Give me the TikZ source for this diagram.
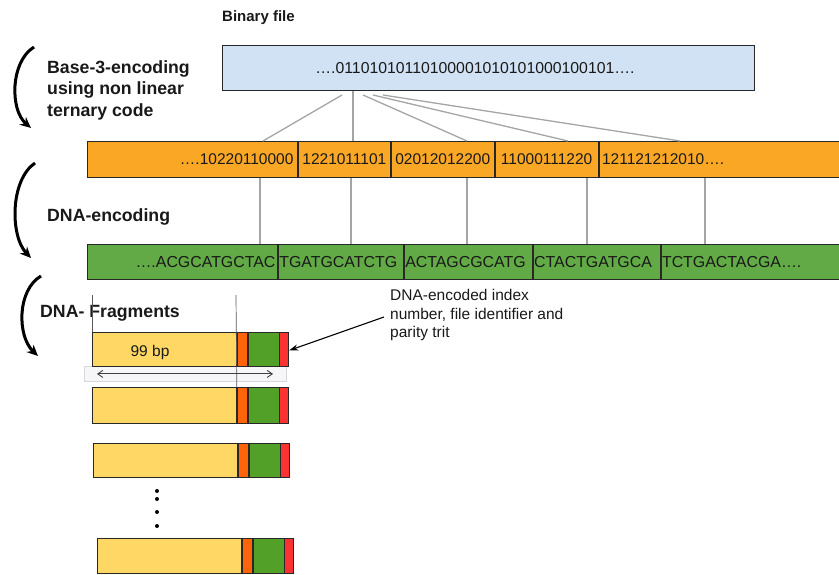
\documentclass[tikz,border=0pt]{standalone}
\usepackage{fontspec}
\setmainfont{Liberation Sans}
\usetikzlibrary{arrows.meta,calc}

\definecolor{binblue}{RGB}{208,226,244}
\definecolor{barorange}{RGB}{250,167,38}
\definecolor{bargreen}{RGB}{98,170,70}
\definecolor{fragyellow}{RGB}{255,215,100}
\definecolor{fragorange}{RGB}{255,100,10}
\definecolor{fraggreen}{RGB}{82,160,40}
\definecolor{fragred}{RGB}{250,50,50}
\definecolor{linkgray}{RGB}{165,165,165}
\definecolor{edgegray}{RGB}{40,40,40}
\definecolor{inkblack}{RGB}{25,25,25}
\definecolor{bandfill}{RGB}{246,246,248}
\definecolor{bandedge}{RGB}{215,215,220}

% one DNA fragment: payload, index, identifier, parity
% #1 name prefix, #2 left x, #3 top y, #4 height
\newcommand{\dnafrag}[4]{%
  \node[fragpart, fill=fragyellow, minimum width=144pt, minimum height=#4] (#1y) at (#2,#3) {};
  \node[fragpart, fill=fragorange, minimum width=10pt, minimum height=#4] (#1o) at (#1y.north east) {};
  \node[fragpart, fill=fraggreen, minimum width=31pt, minimum height=#4] (#1g) at (#1o.north east) {};
  \node[fragpart, fill=fragred, minimum width=9pt, minimum height=#4] (#1r) at (#1g.north east) {};
}

\begin{document}
\begin{tikzpicture}[x=1pt,y=-1pt,
  every node/.style={text=inkblack},
  heading/.style={font=\fontsize{17.7}{21.5}\selectfont\bfseries, align=left, anchor=west, inner sep=0pt},
  seqtext/.style={font=\fontsize{15.5}{18.5}\selectfont},
  barseg/.style={seqtext, draw=edgegray, line width=0.9pt, inner ysep=0pt, anchor=north west},
  oseg/.style={barseg, fill=barorange, minimum height=36pt},
  gseg/.style={barseg, fill=bargreen, minimum height=35pt, font=\fontsize{15.9}{18.5}\selectfont},
  fragpart/.style={draw=edgegray, line width=0.8pt, inner sep=0pt, anchor=north west},
  link/.style={draw=linkgray, line width=1.3pt},
  stepcurve/.style={draw=black, line width=3pt, -{Stealth[length=11pt,width=10pt]}},
  guide/.style={draw=black!65, line width=0.7pt},
]
\useasboundingbox (0,0) rectangle (839,574);

% ---- binary file ----
\node[font=\fontsize{15}{18}\selectfont\bfseries, anchor=base west, inner sep=0pt] (bftitle) at (222,21) {Binary file};
\node[draw=edgegray, line width=1pt, fill=binblue, minimum width=532pt, minimum height=45pt, anchor=north west, inner sep=0pt] (bin) at (222,45) {};
\node[font=\fontsize{15.8}{18.5}\selectfont, inner sep=0pt] (bintxt) at (475,68) {….01101010110100001010101000100101….};

% ---- ternary code bar ----
\node[oseg, inner xsep=4pt, text width=202pt, align=right] (o1) at (87,141) {….10220110000};
\node[oseg, inner xsep=2pt, text width=88pt, align=center] (o2) at (o1.north east) {1221011101};
\node[oseg, inner xsep=2pt, text width=99pt, align=center] (o3) at (o2.north east) {02012012200};
\node[oseg, inner xsep=2pt, text width=99pt, align=center] (o4) at (o3.north east) {11000111220};
\node[oseg, inner xsep=3pt, text width=244pt, align=left] (o5) at (o4.north east) {121121212010….};

% ---- DNA bar ----
\node[gseg, inner xsep=2pt, text width=186pt, align=right] (g1) at (87,244) {….ACGCATGCTAC};
\node[gseg, inner xsep=1pt, text width=123pt, align=left] (g2) at (g1.north east) {TGATGCATCTG};
\node[gseg, inner xsep=1pt, text width=126pt, align=left] (g3) at (g2.north east) {ACTAGCGCATG};
\node[gseg, inner xsep=1pt, text width=125pt, align=left] (g4) at (g3.north east) {CTACTGATGCA};
\node[gseg, inner xsep=1pt, text width=183pt, align=left] (g5) at (g4.north east) {TCTGACTACGA….};

% ---- links: binary file to ternary blocks ----
\coordinate (bs) at ([yshift=-4pt]bin.south);
\draw[link] (bs -| 342,0) -- (o1.north -| 263,0);
\draw[link] (bin.south -| 353,0) -- (o2.north -| 353,0);
\draw[link] (bs -| 363,0) -- (o3.north -| 467,0);
\draw[link] (bs -| 373,0) -- (o4.north -| 568,0);
\draw[link] (bs -| 383,0) -- (o5.north -| 680,0);

% ---- links: ternary blocks to DNA blocks ----
\draw[link] (o1.south -| 260,0) -- (g1.north -| 260,0);
\draw[link] (o2.south -| 351,0) -- (g2.north -| 351,0);
\draw[link] (o3.south -| 467,0) -- (g3.north -| 467,0);
\draw[link] (o4.south -| 587,0) -- (g4.north -| 587,0);
\draw[link] (o5.south -| 705,0) -- (g5.north -| 705,0);

% ---- step headings with curved arrows ----
\node[heading] (h1) at (47,90) {Base-3-encoding\\using non linear\\ternary code};
\draw[stepcurve] (34,47) .. controls (10,62) and (10,110) .. (31,128);

\node[heading] (h2) at (47,217) {DNA-encoding};
\draw[stepcurve] (35,163) .. controls (10,180) and (10,236) .. (31,258);

\node[heading] (h3) at (40,313) {DNA- Fragments};
\draw[stepcurve] (41,276) .. controls (17,290) and (17,336) .. (38,356);

% ---- fragments ----
\node[draw=bandedge, line width=0.8pt, fill=bandfill, minimum width=202pt, minimum height=15pt, anchor=north west, inner sep=0pt] (band) at (84,366) {};
\dnafrag{fa}{92}{332}{34pt}
\dnafrag{fb}{92}{387}{36pt}
\dnafrag{fc}{93}{443}{34pt}
\dnafrag{fd}{97}{538}{35pt}

\coordinate (ga) at (92,295);
\coordinate (gb) at (236,295);
\draw[guide] (ga) -- (fay.north west);
\draw[guide] (gb) -- (fbo.north west);

\node[seqtext, inner sep=0pt] (bp) at (150,352) {99 bp};
\draw[draw=black!75, line width=0.9pt, {Straight Barb[length=5pt,width=7pt]}-{Straight Barb[length=5pt,width=7pt]}]
  (band.west -| 97,0) -- (band.east -| 273,0);

\foreach \dy in {491,499,512,526} \fill[black] (157,\dy) circle (2pt);

% ---- annotation ----
\node[font=\fontsize{15.5}{18.5}\selectfont, align=left, anchor=west, inner xsep=6pt, inner ysep=0pt] (ann) at (384,315)
  {DNA-encoded index\\number, file identifier and\\parity trit};
\draw[black, line width=1.1pt, -{Stealth[length=9pt,width=6pt]}] ([yshift=-2pt]ann.west) -- ([yshift=-1pt]far.east);

\end{tikzpicture}
\end{document}
